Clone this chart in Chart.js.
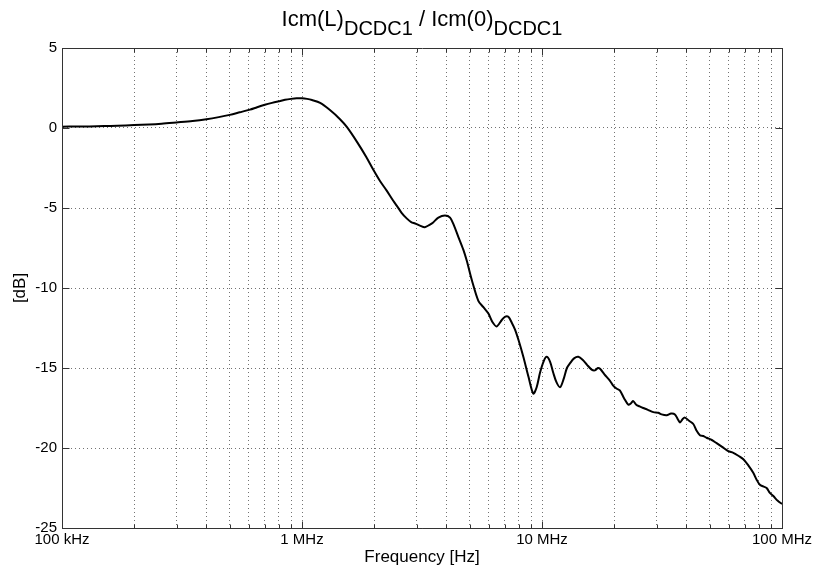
<!DOCTYPE html>
<html><head><meta charset="utf-8">
<script src="https://cdn.jsdelivr.net/npm/chart.js@4"></script>
<style>html,body{margin:0;padding:0;background:#fff}#wrap{width:816px;height:576px}</style>
</head><body><div id="wrap"><canvas id="c" width="816" height="576"></canvas></div>
<script>
// ---- data ----
const freqMHz = [0.100,0.115,0.13,0.15,0.17,0.20,0.23,0.26,0.30,0.35,0.40,0.45,0.50,0.55,0.607,0.65,0.70,0.75,0.80,0.85,0.90,0.95,1.00,1.05,1.10,1.19,1.30,1.44,1.54,1.70,1.85,1.98,2.11,2.25,2.40,2.48,2.60,2.73,2.85,2.96,3.10,3.25,3.40,3.52,3.70,3.94,4.14,4.30,4.48,4.70,4.86,5.10,5.43,5.70,5.98,6.20,6.47,6.80,7.00,7.24,7.50,7.72,8.0,8.36,8.8,9.2,9.5,9.81,10.15,10.45,10.8,11.14,11.5,11.9,12.3,12.7,13.09,13.6,14.17,14.8,15.4,16.1,16.6,17.1,17.45,18.2,19.2,19.8,20.5,21.1,22.0,22.9,23.5,24.0,24.7,25.5,26.4,27.5,29.1,30.5,31.5,33.1,34.5,35.8,36.8,37.6,38.5,39.4,41.0,42.7,44.0,45.5,47.0,48.5,51.0,53.4,56.5,59.7,62.7,66.0,69.0,72.5,75.9,78.5,80.9,83.5,86.3,89.0,92.0,96.0,100];
const gainDb = [0.08,0.10,0.10,0.12,0.14,0.18,0.22,0.27,0.35,0.44,0.55,0.68,0.82,0.98,1.15,1.30,1.45,1.57,1.67,1.76,1.82,1.86,1.86,1.82,1.75,1.57,1.15,0.55,0.05,-0.9,-1.8,-2.6,-3.3,-3.9,-4.55,-4.85,-5.3,-5.65,-5.88,-5.97,-6.1,-6.2,-6.05,-5.9,-5.6,-5.47,-5.6,-6.1,-6.8,-7.6,-8.3,-9.5,-10.8,-11.2,-11.6,-12.1,-12.4,-12.0,-11.8,-11.8,-12.2,-12.6,-13.3,-14.3,-15.6,-16.6,-16.2,-15.3,-14.6,-14.3,-14.6,-15.3,-15.9,-16.2,-15.7,-15.0,-14.7,-14.4,-14.3,-14.5,-14.8,-15.1,-15.15,-15.0,-15.05,-15.4,-15.8,-16.1,-16.3,-16.4,-16.9,-17.3,-17.2,-17.07,-17.3,-17.4,-17.5,-17.6,-17.76,-17.8,-17.9,-17.95,-17.85,-17.9,-18.2,-18.4,-18.2,-18.1,-18.3,-18.5,-18.9,-19.2,-19.25,-19.36,-19.5,-19.7,-19.95,-20.2,-20.3,-20.5,-20.7,-21.1,-21.55,-22.0,-22.3,-22.4,-22.5,-22.8,-23.0,-23.3,-23.5];
const xMajorHz = [1e5, 1e6, 1e7, 1e8];
const xMajorLabels = ['100 kHz', '1 MHz', '10 MHz', '100 MHz'];
const xMinorMult = [2,3,4,5,6,7,8,9];
const yTicks = [5, 0, -5, -10, -15, -20, -25];
const titleMain = ['Icm(L)', ' / Icm(0)'];
const titleSub = ['DCDC1', 'DCDC1'];
const xAxisTitle = 'Frequency [Hz]';
const yAxisTitle = '[dB]';

// ---- derived ----
const points = freqMHz.map((f, i) => ({x: f * 1e6, y: gainDb[i]}));
const xGrid = [];
xMajorHz.forEach((d, i) => {
  xGrid.push(d);
  if (i < xMajorHz.length - 1) xMinorMult.forEach(m => xGrid.push(d * m));
});
const FONT = 'Liberation Sans, Arial, Helvetica, sans-serif';

const titlePlugin = {
  id: 'subTitle',
  afterDraw(chart) {
    const ctx = chart.ctx;
    const mainFont = '22px ' + FONT, subFont = '20px ' + FONT;
    let total = 0;
    ctx.save();
    for (let i = 0; i < titleMain.length; i++) {
      ctx.font = mainFont; total += ctx.measureText(titleMain[i]).width;
      ctx.font = subFont; total += ctx.measureText(titleSub[i]).width;
    }
    const ca = chart.chartArea;
    let x = (ca.left + ca.right) / 2 - total / 2;
    const base = 26;
    ctx.fillStyle = '#000';
    ctx.textBaseline = 'alphabetic';
    ctx.textAlign = 'left';
    for (let i = 0; i < titleMain.length; i++) {
      ctx.font = mainFont; ctx.fillText(titleMain[i], x, base); x += ctx.measureText(titleMain[i]).width;
      ctx.font = subFont; ctx.fillText(titleSub[i], x, base + 9); x += ctx.measureText(titleSub[i]).width;
    }
    ctx.restore();
  }
};

const boxPlugin = {
  id: 'box',
  afterDatasetsDraw(chart) {
    const ctx = chart.ctx, ca = chart.chartArea;
    const xs = chart.scales.x, ys = chart.scales.y;
    ctx.save();
    ctx.strokeStyle = '#333';
    ctx.lineWidth = 1;
    ctx.beginPath();
    const L = Math.round(ca.left) + 0.5, R = Math.round(ca.right) + 0.5, T = Math.round(ca.top) + 0.5, B = Math.round(ca.bottom) + 0.5;
    ctx.moveTo(L, T); ctx.lineTo(R, T); ctx.lineTo(R, B); ctx.lineTo(L, B); ctx.closePath();
    xGrid.forEach(v => {
      const px = Math.round(xs.getPixelForValue(v)) + 0.5;
      const len = xMajorHz.includes(v) ? 7 : 4;
      ctx.moveTo(px, B); ctx.lineTo(px, B - len);
      ctx.moveTo(px, T); ctx.lineTo(px, T + len);
    });
    yTicks.forEach(v => {
      const py = Math.round(ys.getPixelForValue(v)) + 0.5;
      ctx.moveTo(L, py); ctx.lineTo(L + 7, py);
      ctx.moveTo(R, py); ctx.lineTo(R - 7, py);
    });
    ctx.stroke();
    ctx.restore();
  }
};

new Chart(document.getElementById('c'), {
  type: 'line',
  data: { datasets: [{ data: points, borderColor: '#000', borderWidth: 2, pointRadius: 0, tension: 0.3, fill: false }] },
  options: {
    responsive: false, animation: false, devicePixelRatio: 1,
    layout: { padding: { top: 48, right: 34, left: 0, bottom: 0 } },
    plugins: { legend: { display: false }, tooltip: { enabled: false }, title: { display: false } },
    scales: {
      x: {
        type: 'logarithmic', min: 1e5, max: 1e8,
        afterBuildTicks: s => { s.ticks = xGrid.map(v => ({ value: v })); },
        afterFit: s => { s.height = 48; },
        ticks: {
          autoSkip: false, maxRotation: 0, minRotation: 0, padding: 3, color: '#000',
          font: { family: FONT, size: 15 },
          callback: v => { const i = xMajorHz.indexOf(v); return i >= 0 ? xMajorLabels[i] : ''; }
        },
        grid: { color: 'rgba(0,0,0,0.55)', lineWidth: 1, drawTicks: false },
        border: { display: true, color: '#333', width: 1, dash: [1, 3] },
        title: { display: true, text: xAxisTitle, color: '#000', font: { family: FONT, size: 17 }, padding: { top: 0, bottom: 8 } }
      },
      y: {
        min: -25, max: 5,
        afterBuildTicks: s => { s.ticks = yTicks.map(v => ({ value: v })); },
        afterFit: s => { s.width = 62; },
        ticks: { padding: 5, color: '#000', font: { family: FONT, size: 15 } },
        grid: { color: 'rgba(0,0,0,0.55)', lineWidth: 1, drawTicks: false },
        border: { display: true, color: '#333', width: 1, dash: [1, 3] },
        title: { display: true, text: yAxisTitle, color: '#000', font: { family: FONT, size: 17 }, padding: { top: 10, bottom: 0 } }
      }
    }
  },
  plugins: [titlePlugin, boxPlugin]
});
</script>
</body></html>
